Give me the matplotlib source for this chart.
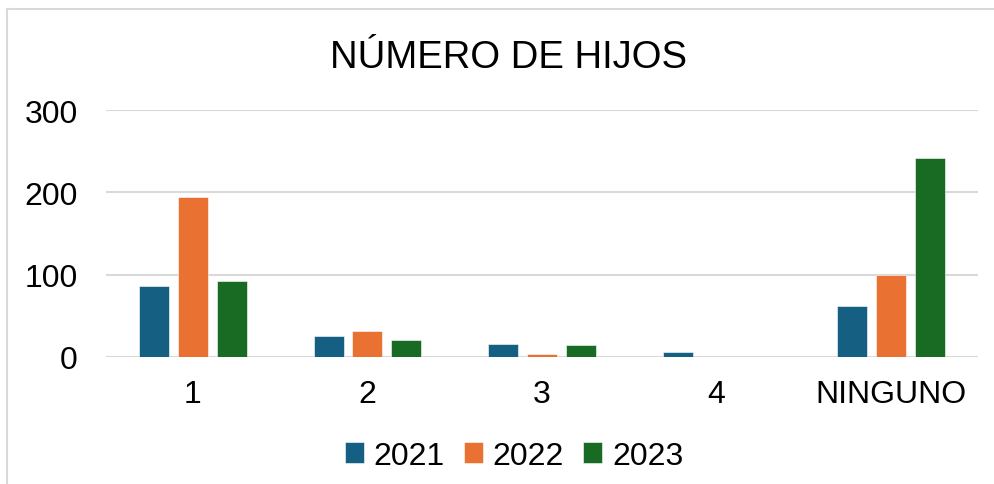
import numpy as np
import matplotlib.pyplot as plt
from matplotlib.lines import Line2D

categories = ['1', '2', '3', '4', 'NINGUNO']
years = ['2021', '2022', '2023']
v2021 = [86, 25, 16, 6, 62]
v2022 = [194, 31, 4, 0, 99]
v2023 = [92, 21, 14, 0, 242]
colors = ['#156082', '#E97132', '#196B24']

plt.rcParams['font.family'] = ['Liberation Sans', 'DejaVu Sans']

fig = plt.figure(figsize=(9.95, 4.85), dpi=100)
ax = fig.add_axes([0.1062, 0.262, 0.877, 0.509])

x = np.arange(len(categories))
width = 0.172
step = 0.223
for i, (vals, name) in enumerate(zip([v2021, v2022, v2023], years)):
    ax.bar(x + (i - 1) * step, vals, width, color=colors[i], label=name,
           edgecolor='white', linewidth=0.4, zorder=3)

ax.set_xlim(-0.5, len(categories) - 0.5)
ax.set_ylim(0, 300)
ax.set_yticks([0, 100, 200, 300])
ax.set_xticks(x)
ax.set_xticklabels(categories)
ax.grid(axis='y', color='#D9D9D9', linewidth=1.5, zorder=0)
for s in ax.spines.values():
    s.set_visible(False)
ax.tick_params(axis='both', length=0, labelsize=23, colors='black')
ax.tick_params(axis='y', pad=20)
ax.tick_params(axis='x', pad=16)

fig.suptitle('NÚMERO DE HIJOS', fontsize=27.5, x=0.511, y=0.918)

ax.legend(loc='center', bbox_to_anchor=(0.468, -0.40), ncol=3, frameon=False,
          fontsize=23, handlelength=0.6, handleheight=0.6, handletextpad=0.3,
          columnspacing=0.6)

# outer chart border (left and top edges visible)
fig.add_artist(Line2D([0.0075, 0.0075], [0, 0.979], transform=fig.transFigure,
                      color='#D9D9D9', linewidth=1.5))
fig.add_artist(Line2D([0.0075, 1.0], [0.979, 0.979], transform=fig.transFigure,
                      color='#D9D9D9', linewidth=1.5))

fig.savefig('out.png', dpi=100)
